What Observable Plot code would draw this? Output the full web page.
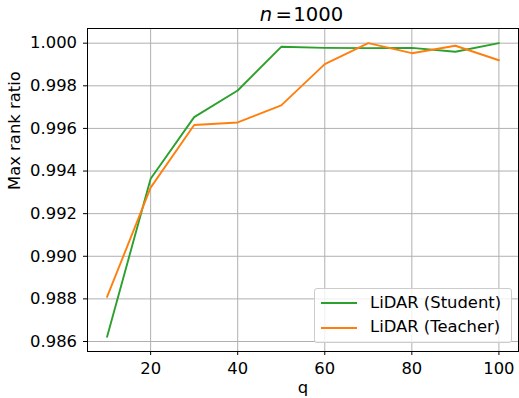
<!DOCTYPE html>
<html>
<head>
<meta charset="utf-8">
<script src="https://cdn.jsdelivr.net/npm/d3@7"></script>
<script src="https://cdn.jsdelivr.net/npm/@observablehq/plot@0.6"></script>
<style>
  html, body { margin: 0; padding: 0; background: #fff; }
  #chart { position: relative; width: 519px; height: 398px; font-family: "DejaVu Sans", sans-serif; }
  .legend {
    position: absolute; left: 314px; top: 288px; width: 198px; height: 55px;
    border: 1px solid #cccccc; border-radius: 3px; background: rgba(255,255,255,0.8);
    box-sizing: border-box;
  }
  .legend .swatch { position: absolute; left: 6px; width: 36px; height: 0; border-top: 2px solid; }
  .legend .lbl { position: absolute; left: 55px; font-size: 16.4px; white-space: nowrap; color: #000; line-height: 20px; }
</style>
</head>
<body>
<div id="chart"></div>
<script>
// Query sizes on the x axis
const q = [10, 20, 30, 40, 50, 60, 70, 80, 90, 100];
// Max rank ratio per series
const student = [0.98622, 0.99364, 0.99653, 0.99778, 0.99983, 0.99978, 0.99977, 0.99978, 0.99960, 1.00000];
const teacher = [0.98809, 0.99322, 0.99616, 0.99628, 0.99708, 0.99902, 1.00000, 0.99953, 0.99988, 0.99920];
const seriesNames = ["LiDAR (Student)", "LiDAR (Teacher)"];
const seriesColors = ["#2ca02c", "#ff7f0e"];
const xTicks = [20, 40, 60, 80, 100];
const yTicks = [0.986, 0.988, 0.990, 0.992, 0.994, 0.996, 0.998, 1.000];
const titleVar = "n";
const titleEq = "=";
const titleNum = "1000";
const xLabel = "q";
const yLabel = "Max rank ratio";

const rows = [
  ...q.map((v, i) => ({q: v, value: student[i], series: seriesNames[0]})),
  ...q.map((v, i) => ({q: v, value: teacher[i], series: seriesNames[1]}))
];

// matplotlib-style 5% padding around the data extent
function padded(values) {
  const [lo, hi] = d3.extent(values);
  const m = (hi - lo) * 0.05;
  return [lo - m, hi + m];
}

const fs = 16.4;
const titleFs = 19.6;

const chart = Plot.plot({
  width: 519,
  height: 398,
  marginLeft: 87,
  marginRight: 1,
  marginTop: 28,
  marginBottom: 47,
  style: {fontFamily: "DejaVu Sans, sans-serif", fontSize: fs + "px", background: "#fff", color: "#000", overflow: "visible"},
  x: {domain: padded(q)},
  y: {domain: padded(rows.map(d => d.value))},
  color: {domain: seriesNames, range: seriesColors},
  marks: [
    Plot.gridX(xTicks, {stroke: "#b0b0b0", strokeOpacity: 1, strokeWidth: 1}),
    Plot.gridY(yTicks, {stroke: "#b0b0b0", strokeOpacity: 1, strokeWidth: 1}),
    Plot.line(rows, {x: "q", y: "value", stroke: "series", z: "series", strokeWidth: 1.9, curve: "linear"}),
    Plot.frame({stroke: "#000", strokeWidth: 1}),
    Plot.axisX(xTicks, {tickSize: 4, tickPadding: 6.5, fontSize: fs, label: null, stroke: "#000", strokeWidth: 1}),
    Plot.axisY(yTicks, {tickSize: 4, tickPadding: 6.5, fontSize: fs, label: null, tickFormat: d3.format(".3f"), stroke: "#000", strokeWidth: 1}),
    Plot.text([titleVar], {frameAnchor: "top", text: d => d, dx: -37, dy: -7.3, lineAnchor: "bottom", fontSize: titleFs, fontStyle: "italic", fill: "#000"}),
    Plot.text([titleEq], {frameAnchor: "top", text: d => d, dx: -27.5, dy: -7.3, lineAnchor: "bottom", textAnchor: "start", fontSize: titleFs, fill: "#000"}),
    Plot.text([titleNum], {frameAnchor: "top", text: d => d, dx: -9.7, dy: -7.3, lineAnchor: "bottom", textAnchor: "start", fontSize: titleFs, fill: "#000"}),
    Plot.text([xLabel], {frameAnchor: "bottom", text: d => d, dy: 41.5, lineAnchor: "bottom", fontSize: fs, fill: "#000"}),
    Plot.text([yLabel], {frameAnchor: "left", text: d => d, dx: -72.5, rotate: -90, fontSize: fs, fill: "#000"})
  ]
});

const root = document.getElementById("chart");
root.appendChild(chart);

// Legend box in the lower right corner of the axes
const legend = document.createElement("div");
legend.className = "legend";
seriesNames.forEach((name, i) => {
  const top = 3.5 + i * 24.7;
  const sw = document.createElement("div");
  sw.className = "swatch";
  sw.style.borderTopColor = seriesColors[i];
  sw.style.top = (top + 9.5) + "px";
  const lbl = document.createElement("div");
  lbl.className = "lbl";
  lbl.style.top = top + "px";
  lbl.textContent = name;
  legend.appendChild(sw);
  legend.appendChild(lbl);
});
root.appendChild(legend);
</script>
</body>
</html>
